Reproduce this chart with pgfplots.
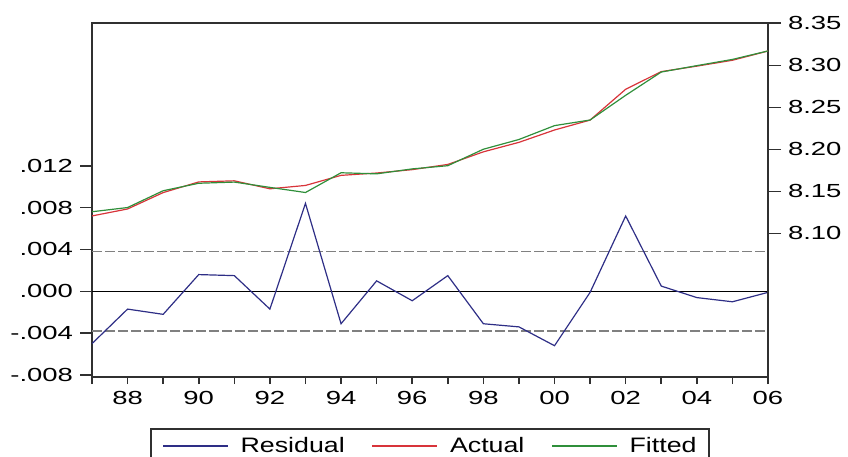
\documentclass[border=0pt]{standalone}
\usepackage{fontspec}
\setmainfont{Liberation Sans}
\newfontfamily\tickfont{Liberation Sans}[FakeStretch=1.45]
\newfontfamily\legfont{Liberation Sans}[FakeStretch=1.28]
\usepackage{pgfplots}
\usepackage{pgfplotstable}
\pgfplotsset{compat=1.18}

\definecolor{resid}{HTML}{2E2E86}
\definecolor{actual}{HTML}{D8343A}
\definecolor{fitted}{HTML}{2F8F3A}
\definecolor{frame}{HTML}{303030}

% year, actual, fitted (right axis), residual (left axis)
\pgfplotstableread{
year actual fitted resid
1987 8.1207 8.1257 -0.0050
1988 8.1290 8.1307 -0.0017
1989 8.1485 8.1507 -0.0022
1990 8.1612 8.1596  0.0016
1991 8.1625 8.1610  0.0015
1992 8.1530 8.1547 -0.0017
1993 8.1570 8.1486  0.0084
1994 8.1690 8.1721 -0.0031
1995 8.1718 8.1708  0.0010
1996 8.1758 8.1767 -0.0009
1997 8.1820 8.1805  0.0015
1998 8.1970 8.2001 -0.0031
1999 8.2083 8.2117 -0.0034
2000 8.2230 8.2282 -0.0052
2001 8.2348 8.2349 -0.0001
2002 8.2715 8.2643  0.0072
2003 8.2925 8.2920  0.0005
2004 8.2990 8.2996 -0.0006
2005 8.3060 8.3070 -0.0010
2006 8.3170 8.3171 -0.0001
}\datatable

\pgfplotsset{
  common/.style={
    scale only axis, width=338bp, height=176.85bp,
    xmin=1987, xmax=2006,
    tick align=outside,
    scaled y ticks=false, scaled x ticks=false,
    tick label style={font=\tickfont\fontsize{9.5}{11}\selectfont},
    /pgf/number format/assume math mode=true,
    axis line style={frame, line width=1bp, -},
    every tick/.style={frame, line width=0.8bp},
  },
}

\begin{document}
\begin{tikzpicture}
% left axis: residual
\begin{axis}[common, name=ax,
    ymin=-0.00819, ymax=0.02562,
    ytick={-0.008,-0.004,0,0.004,0.008,0.012},
    yticklabels={-.008,-.004,.000,.004,.008,.012},
    ytick pos=left, xtick=\empty,
    major tick length=6bp,
]
\addplot[gray, line width=0.6bp, dash pattern=on 5bp off 1.5bp] coordinates {(1987,0.0038) (2006,0.0038)};
\addplot[gray, line width=0.6bp, dash pattern=on 5bp off 1.5bp] coordinates {(1987,-0.0038) (2006,-0.0038)};
\addplot[black, line width=0.6bp] coordinates {(1987,0) (2006,0)};
\addplot[resid, line width=0.6bp] table[x=year, y=resid] {\datatable};
\end{axis}

% right axis: actual and fitted
\begin{axis}[common,
    hide x axis, axis y line*=right,
    ymin=7.929, ymax=8.35,
    ytick={8.10,8.15,8.20,8.25,8.30,8.35},
    yticklabels={8.10,8.15,8.20,8.25,8.30,8.35},
    major tick length=6.5bp,
    legend columns=3,
    legend style={at={(0.5,-0.144)}, anchor=north, draw=frame, line width=1bp,
        font=\legfont\fontsize{10.5}{12}\selectfont, inner xsep=4bp,
        /tikz/every even column/.append style={column sep=10bp}},
    legend image code/.code={\path (-1.5bp,0bp) (36.5bp,0bp);
        \draw (0bp,0bp) -- (32.5bp,0bp);},
]
\addlegendimage{resid, line width=0.6bp}
\addlegendentry{Residual}
\addplot[actual, line width=0.6bp] table[x=year, y=actual] {\datatable};
\addlegendentry{Actual}
\addplot[fitted, line width=0.6bp] table[x=year, y=fitted] {\datatable};
\addlegendentry{Fitted}
\end{axis}

% x axis ticks
\begin{axis}[common,
    hide y axis, axis x line*=bottom,
    ymin=0, ymax=1,
    xtick={1988,1990,...,2006},
    xticklabels={88,90,92,94,96,98,00,02,04,06},
    minor xtick={1987,1989,...,2005},
    major tick length=3.5bp, minor tick length=3.5bp,
    every minor tick/.style={frame, line width=0.8bp},
]
\addplot[draw=none] coordinates {(1987,0)};
\end{axis}

\pgfresetboundingbox
\path ([shift={(-46bp,-40bp)}]ax.south west) rectangle ([shift={(40bp,11.65bp)}]ax.north east);
\end{tikzpicture}
\end{document}
